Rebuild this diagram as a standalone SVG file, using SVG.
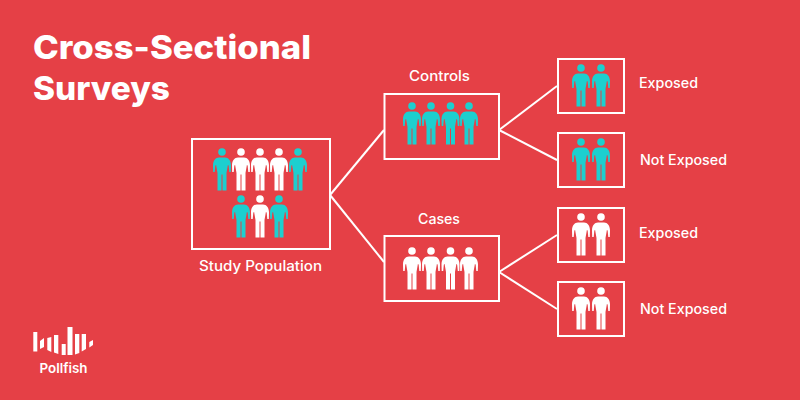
<svg xmlns="http://www.w3.org/2000/svg" width="800" height="400" viewBox="0 0 800 400">
<style>
text{font-family:"Inter","Open Sans","Liberation Sans",sans-serif;fill:#fff;font-weight:500}
.title{font-size:33px;font-weight:800}
.lbl{font-size:14px}
.box{fill:none;stroke:#fff;stroke-width:2}
.con line{stroke:#fff;stroke-width:2}
.t{fill:#1dcfcf}
.w{fill:#fff}
</style>
<defs>
<g id="p">
<circle cx="0" cy="0" r="3.8"/>
<path d="M-3,5.500H3C6.500,5.500 9,8.500 9,13.500L8.800,20H7.300L6.700,14C6.600,13.300 6.300,13 5.900,13L4.500,21V38.500H0.500V22.500H-0.500V38.500H-4.500V21L-5.900,13C-6.300,13 -6.600,13.300 -6.700,14L-7.300,20H-8.800L-9,13.500C-9,8.500 -6.500,5.500 -3,5.500Z"/>
</g>
</defs>
<rect width="800" height="400" fill="#e54046"/>
<g id="title">
<text class="title" x="33" y="59" textLength="278" lengthAdjust="spacingAndGlyphs">Cross-Sectional</text>
<text class="title" x="33" y="100" textLength="137" lengthAdjust="spacingAndGlyphs">Surveys</text>
</g>
<g class="con" id="connectors">
<line x1="330" y1="195" x2="384" y2="130"/>
<line x1="330" y1="195" x2="384" y2="262"/>
<line x1="499" y1="130" x2="557" y2="86"/>
<line x1="499" y1="130" x2="557" y2="160"/>
<line x1="499" y1="272" x2="557" y2="235"/>
<line x1="499" y1="272" x2="557" y2="309"/>
</g>
<g id="study">
<rect class="box" x="192" y="139" width="138" height="110"/>
<use href="#p" x="222" y="152" class="t"/><use href="#p" x="241" y="152" class="w"/><use href="#p" x="260" y="152" class="w"/><use href="#p" x="279" y="152" class="w"/><use href="#p" x="298" y="152" class="t"/>
<use href="#p" x="241" y="199" class="t"/><use href="#p" x="260" y="199" class="w"/><use href="#p" x="279" y="199" class="t"/>
<text class="lbl" x="199" y="271" textLength="123" lengthAdjust="spacingAndGlyphs">Study Population</text>
</g>
<g id="controls">
<rect class="box" x="384.500" y="94" width="114.500" height="65"/>
<use href="#p" x="412" y="106" class="t"/><use href="#p" x="431" y="106" class="t"/><use href="#p" x="450.500" y="106" class="t"/><use href="#p" x="469" y="106" class="t"/>
<text class="lbl" x="409" y="81" textLength="61" lengthAdjust="spacingAndGlyphs">Controls</text>
</g>
<g id="cases">
<rect class="box" x="384.500" y="236" width="114.500" height="65"/>
<use href="#p" x="412" y="251" class="w"/><use href="#p" x="431" y="251" class="w"/><use href="#p" x="450.500" y="251" class="w"/><use href="#p" x="469" y="251" class="w"/>
<text class="lbl" x="418" y="224" textLength="42" lengthAdjust="spacingAndGlyphs">Cases</text>
</g>
<g id="controls-exposed">
<rect class="box" x="558" y="59" width="66" height="54"/>
<use href="#p" x="581" y="68" class="t"/><use href="#p" x="601" y="68" class="t"/>
<text class="lbl" x="639" y="88" textLength="59" lengthAdjust="spacingAndGlyphs">Exposed</text>
</g>
<g id="controls-not-exposed">
<rect class="box" x="558" y="133" width="66" height="54"/>
<use href="#p" x="581" y="142" class="t"/><use href="#p" x="601" y="142" class="t"/>
<text class="lbl" x="640" y="165" textLength="87" lengthAdjust="spacingAndGlyphs">Not Exposed</text>
</g>
<g id="cases-exposed">
<rect class="box" x="558" y="208" width="66" height="54"/>
<use href="#p" x="581" y="217" class="w"/><use href="#p" x="601" y="217" class="w"/>
<text class="lbl" x="639" y="238" textLength="59" lengthAdjust="spacingAndGlyphs">Exposed</text>
</g>
<g id="cases-not-exposed">
<rect class="box" x="558" y="282" width="66" height="54"/>
<use href="#p" x="581" y="291" class="w"/><use href="#p" x="601" y="291" class="w"/>
<text class="lbl" x="640" y="314" textLength="87" lengthAdjust="spacingAndGlyphs">Not Exposed</text>
</g>
<g id="logo" fill="#fff">
<path d="M33.300,332H37.300V351.500H33.300Z"/>
<path d="M40,341L44,338V347L40,349Z"/>
<path d="M47.300,338L51.300,337V352L47.300,350Z"/>
<path d="M54,335H58.300V354L54,352.500Z"/>
<path d="M61.700,344H65.700V355H61.700Z"/>
<path d="M67.500,327H72.500V355H67.500Z"/>
<path d="M75,334H79.300V353L75,354.500Z"/>
<path d="M81.700,334H86V349L81.700,351.500Z"/>
<path d="M89.300,342L93,340V345L89.300,347.500Z"/>
<text x="39.500" y="372.500" style="font-size:13.500px;font-weight:600" textLength="48" lengthAdjust="spacingAndGlyphs">Pollfish</text>
</g>
</svg>
